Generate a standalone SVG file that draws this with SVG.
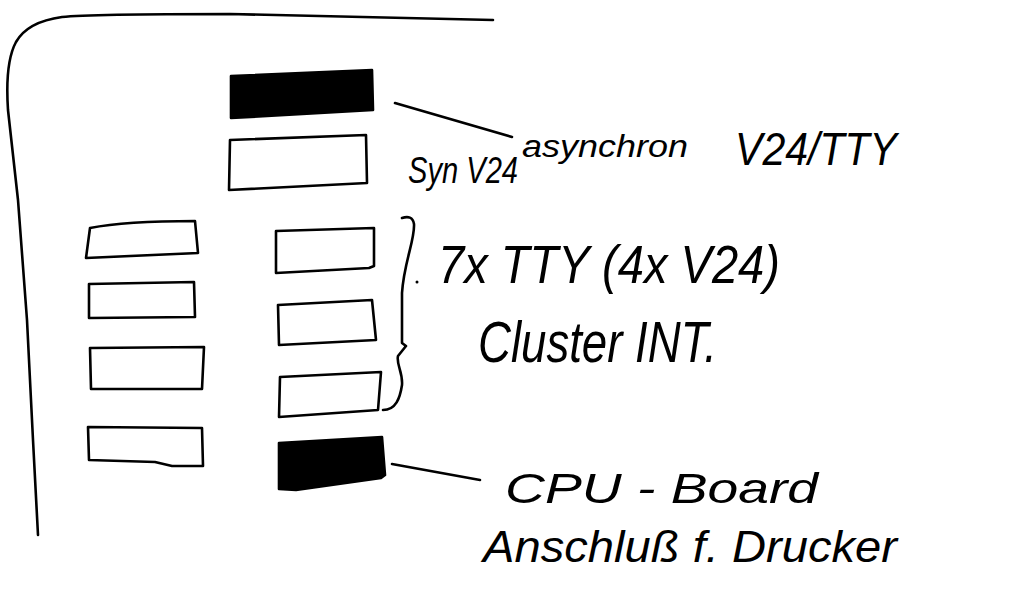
<svg xmlns="http://www.w3.org/2000/svg" width="1024" height="595" viewBox="0 0 1024 595">
  <style>
    .ink { fill: none; stroke: #000; stroke-width: 2.6; stroke-linejoin: round; stroke-linecap: round; }
    .solid { fill: #000; stroke: #000; stroke-width: 2.6; stroke-linejoin: round; }
    .hand { font-family: "Liberation Sans", "DejaVu Sans", sans-serif; font-style: italic; fill: #000; }
  </style>
  <rect width="1024" height="595" fill="#fff"/>

  <!-- housing outline: left edge with rounded corner into the top edge -->
  <path id="housing" class="ink" d="M38,535 L33,440 L27,320 L18,200 L8,110 C6,80 9,55 16,42 C24,28 40,20 62,17 C80,15 120,14 230,14 L493,20"/>

  <!-- slot boards, right column -->
  <g id="board-async">
    <path class="solid" d="M231,76 L372,70 L373,110 L231,118 Z"/>
  </g>
  <g id="board-sync">
    <path class="ink" d="M230,140 L366,135 L367,183 L229,190 Z"/>
  </g>
  <g id="board-tty1">
    <path class="ink" d="M276,231 L374,228 L374,266 L369,268 L276,273 Z"/>
  </g>
  <g id="board-tty2">
    <path class="ink" d="M278,305 L372,300 L376,340 L279,345 Z"/>
  </g>
  <g id="board-tty3">
    <path class="ink" d="M280,377 L381,372 L378,410 L279,417 Z"/>
  </g>
  <g id="board-cpu">
    <path class="solid" d="M279,443 L382,437 L385,475 L381,478 L296,490 L279,489 Z"/>
  </g>

  <!-- slot boards, left column -->
  <g id="board-left1">
    <path class="ink" d="M90,228 C120,222 160,221 195,221 L198,253 L86,258 Z"/>
  </g>
  <g id="board-left2">
    <path class="ink" d="M89,284 L194,282 L195,317 L89,318 Z"/>
  </g>
  <g id="board-left3">
    <path class="ink" d="M90,348 L204,347 L202,389 L91,389 Z"/>
  </g>
  <g id="board-left4">
    <path class="ink" d="M88,427 L202,428 L203,466 L172,466 L155,462 L89,460 Z"/>
  </g>

  <!-- curly brace grouping the three TTY boards -->
  <g id="brace">
    <path class="ink" d="M402,218 C408,216 413,217 414,224 C415,240 404,262 402,293 L402,343 L406,346 L398,356 C396,364 403,372 402,385 C400,398 396,410 383,410"/>
    <circle cx="417" cy="282" r="1.5" fill="#000"/>
  </g>

  <!-- leader lines from boards to labels -->
  <g id="connectors">
    <path class="ink" d="M395,103 L512,137"/>
    <path class="ink" d="M392,464 L480,480"/>
  </g>

  <!-- labels -->
  <g id="labels">
    <text class="hand" x="522" y="157" font-size="31" textLength="166" lengthAdjust="spacingAndGlyphs">asynchron</text>
    <text class="hand" x="735" y="165" font-size="46" textLength="162" lengthAdjust="spacingAndGlyphs">V24/TTY</text>
    <text class="hand" x="408" y="183" font-size="36" textLength="110" lengthAdjust="spacingAndGlyphs">Syn V24</text>
    <text class="hand" x="438" y="283" font-size="54" textLength="342" lengthAdjust="spacingAndGlyphs">7x TTY (4x V24)</text>
    <text class="hand" x="478" y="362" font-size="58" textLength="239" lengthAdjust="spacingAndGlyphs">Cluster INT.</text>
    <text class="hand" x="505" y="503" font-size="42" textLength="313" lengthAdjust="spacingAndGlyphs">CPU - Board</text>
    <text class="hand" x="483" y="562" font-size="44" textLength="414" lengthAdjust="spacingAndGlyphs">Anschluß f. Drucker</text>
  </g>
</svg>
